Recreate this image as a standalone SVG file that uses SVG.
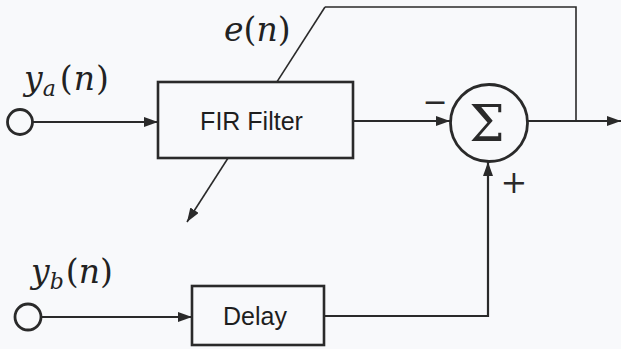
<svg xmlns="http://www.w3.org/2000/svg" width="621" height="349" viewBox="0 0 621 349">
  <style>
    .wire { fill: none; stroke: #2a2a2a; stroke-width: 2.2; }
    .thin { fill: none; stroke: #2a2a2a; stroke-width: 1.6; }
    .block { fill: #f8f9fb; stroke: #2a2a2a; stroke-width: 2.6; }
    .port { fill: #f8f9fb; stroke: #2a2a2a; stroke-width: 2.8; }
    .label { font-family: "Liberation Sans", Arial, sans-serif; font-size: 25px; fill: #1e1e1e; }
    .math { font-family: "DejaVu Serif", "Liberation Serif", serif; font-size: 33px; fill: #222; }
    .it { font-style: italic; }
    .sign { font-family: "DejaVu Serif", "Liberation Serif", serif; fill: #2a2a2a; }
  </style>
  <defs>
    <marker id="arrow" markerUnits="userSpaceOnUse" markerWidth="14" markerHeight="10" refX="14" refY="5" orient="auto">
      <path d="M0,0 L14,5 L0,10 z" fill="#2a2a2a"/>
    </marker>
  </defs>

  <rect width="621" height="349" fill="#f8f9fb"/>

  <!-- signal paths -->
  <g id="connectors">
    <path class="wire" d="M33,122 H158" marker-end="url(#arrow)"/>
    <path class="wire" d="M353,121 H450" marker-end="url(#arrow)"/>
    <path class="wire" d="M528,121 H621" marker-end="url(#arrow)"/>
    <path class="thin" d="M576,121 V7 H325"/>
    <path class="thin" d="M325,7 L187,222" marker-end="url(#arrow)"/>
    <path class="wire" d="M41,317 H192" marker-end="url(#arrow)"/>
    <path class="wire" d="M324,316 H488 V162" marker-end="url(#arrow)"/>
  </g>

  <g id="input-a">
    <circle class="port" cx="20" cy="122" r="12.5"/>
    <text class="math" x="24" y="90"><tspan class="it">y</tspan><tspan class="it" font-size="22" dy="6">a</tspan><tspan dx="4" dy="-6">(</tspan><tspan class="it" dx="1">n</tspan><tspan dx="1">)</tspan></text>
  </g>

  <g id="input-b">
    <circle class="port" cx="28" cy="317" r="13"/>
    <text class="math" x="31" y="283"><tspan class="it">y</tspan><tspan class="it" font-size="22" dy="6">b</tspan><tspan dx="2" dy="-6">(</tspan><tspan class="it">n</tspan>)</text>
  </g>

  <g id="error-label">
    <text class="math" x="224" y="41"><tspan class="it">e</tspan>(<tspan class="it">n</tspan>)</text>
  </g>

  <g id="fir-filter">
    <rect class="block" x="158" y="82" width="195" height="76"/>
    <text class="label" x="251.5" y="129.5" text-anchor="middle">FIR Filter</text>
  </g>

  <g id="delay">
    <rect class="block" x="192" y="286" width="132" height="59"/>
    <text class="label" x="255" y="325" text-anchor="middle">Delay</text>
  </g>

  <g id="summer">
    <circle class="port" cx="489" cy="123" r="38.5"/>
    <text class="sign" x="487" y="141" font-size="50" text-anchor="middle">Σ</text>
    <text class="sign" x="435" y="112" font-size="30" text-anchor="middle">−</text>
    <text class="sign" x="514" y="193" font-size="32" text-anchor="middle">+</text>
  </g>
</svg>
